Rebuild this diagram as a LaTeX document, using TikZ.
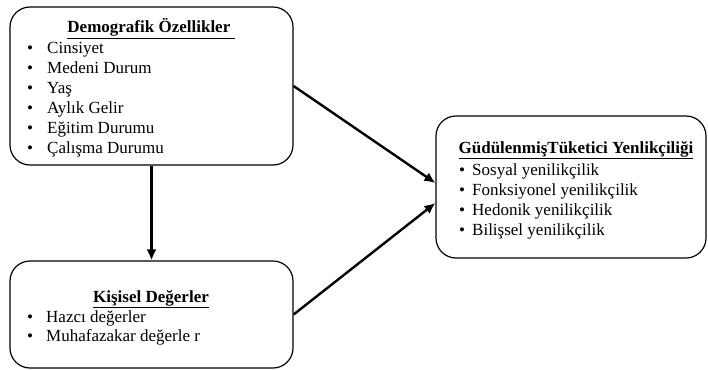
\documentclass[tikz,border=0pt]{standalone}
\usepackage{fontspec}
\setmainfont{Liberation Serif}
\usepackage{tikz}
\usetikzlibrary{arrows.meta,calc}

\begin{document}
\begin{tikzpicture}[x=1pt,y=-1pt,
        kutu/.style={draw,line width=1.2pt,rounded corners=20pt,inner sep=0pt},
        baslik/.style={anchor=base,inner sep=0pt,font=\fontsize{17}{19}\selectfont\bfseries},
        madde/.style={anchor=base west,inner sep=0pt,font=\fontsize{17}{19}\selectfont},
        ok/.style={line width=2.4pt,-{Latex[length=11pt,width=10pt]}}]
        \useasboundingbox (0,0) rectangle (708,369);
        % kutular
        \node[kutu,minimum width=283pt,minimum height=158pt] (demo) at (151.5,86) {};
        \node[kutu,minimum width=283pt,minimum height=107pt] (kisisel) at (151.5,314.5) {};
        \node[kutu,minimum width=270pt,minimum height=142pt] (tuketici) at (571,187) {};
        % demografik
        \node[baslik] (demoB) at (151,33) {\underline{Demografik Özellikler\ }};
        \foreach \t [count=\i] in {Cinsiyet,Medeni Durum,Yaş,Aylık Gelir,Eğitim Durumu,Çalışma Durumu}
        \node[madde] (d\i) at (27,33+20*\i) {\makebox[20pt][l]{\textbullet}\t};
        % kisisel degerler
        \node[baslik] (kisiselB) at (151,302) {\underline{Kişisel Değerler}};
        \node[madde] (k1) at (27,322) {\makebox[19pt][l]{\textbullet}Hazcı değerler};
        \node[madde] (k2) at (27,341) {\makebox[19pt][l]{\textbullet}Muhafazakar değerle r};
        % tuketici yenilikciligi
        \node[baslik] (tuketiciB) at (576,153) {\underline{GüdülenmişTüketici Yenlikçiliği}};
        \foreach \t [count=\i] in {Sosyal yenilikçilik,Fonksiyonel yenilikçilik,Hedonik yenilikçilik,Bilişsel yenilikçilik}
        \node[madde] (t\i) at (459,155+20*\i) {\makebox[13pt][l]{\textbullet}\t};
        % oklar
        \draw[ok] (demo.south) -- (kisisel.north);
        \draw[ok] (demo.east) -- ($(tuketici.west)+(0,-4)$);
        \draw[ok] (kisisel.east) -- ($(tuketici.west)+(0,16)$);
\end{tikzpicture}
\end{document}
